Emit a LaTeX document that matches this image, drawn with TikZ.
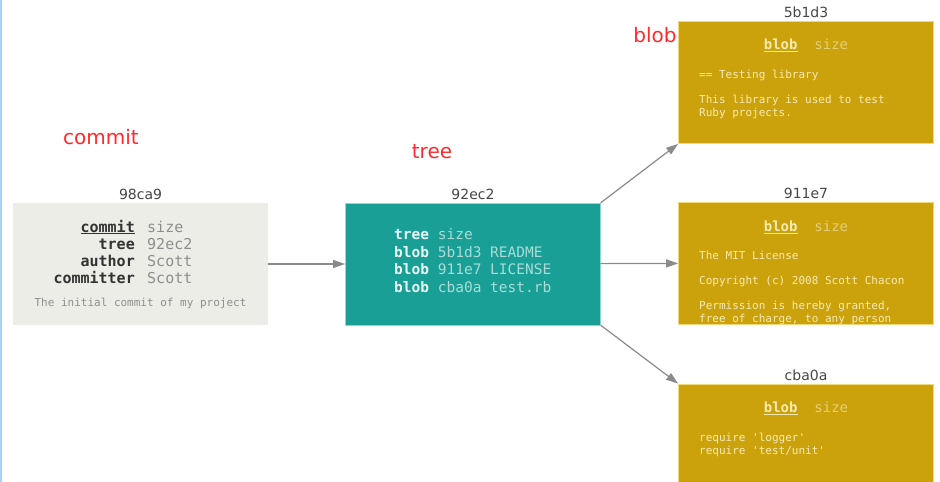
\documentclass[tikz,border=0pt]{standalone}
\usepackage{fontspec}
\setmainfont{DejaVu Sans}
\setmonofont{DejaVu Sans Mono}
\usepackage{tikz}
\usetikzlibrary{arrows.meta,positioning}
\definecolor{gitCommit}{HTML}{EDEDE7}
\definecolor{gitTree}{HTML}{1A9F97}
\definecolor{gitTreeLine}{HTML}{8ED8D2}
\definecolor{gitBlob}{HTML}{CBA20C}
\definecolor{gitBlobLine}{HTML}{EFD97A}
\definecolor{gitInk}{HTML}{333333}
\definecolor{gitMuted}{HTML}{8E8E8E}
\definecolor{gitArrow}{HTML}{8A8A8A}
\definecolor{gitNote}{HTML}{FF2B2B}
\definecolor{gitEdge}{HTML}{A9D3F2}
\definecolor{gitTreeText}{HTML}{EAF6F3}
\definecolor{gitTreeDim}{HTML}{A8DCD6}
\definecolor{gitBlobText}{HTML}{F6EAB4}
\definecolor{gitBlobDim}{HTML}{E4CF78}
\tikzset{
  git diagram/.style={x=1pt, y=-1pt, line cap=round, line join=round},
  git box/.style={minimum width=255pt, minimum height=122pt, inner sep=0pt},
  git commit box/.style={git box, fill=gitCommit},
  git tree box/.style={git box, fill=gitTree, draw=gitTreeLine, line width=0.8pt},
  git blob box/.style={git box, fill=gitBlob, draw=gitBlobLine, line width=0.8pt},
  git hash/.style={font=\fontsize{14}{16}\selectfont, text=gitInk!90, inner sep=1pt},
  git note/.style={font=\fontsize{20}{24}\selectfont, text=gitNote},
  git field/.style={font=\ttfamily\fontsize{15}{17}\selectfont, inner sep=0pt},
  git entry/.style={font=\ttfamily\fontsize{14.5}{17}\selectfont, inner sep=0pt,
    anchor=base west, text=gitTreeDim},
  git head/.style={font=\ttfamily\fontsize{14}{17}\selectfont, inner sep=0pt,
    text=gitBlobText},
  git body/.style={font=\ttfamily\fontsize{11}{13}\selectfont, text=gitBlobText,
    align=left, inner sep=0pt, anchor=north west},
  git arrow/.style={-{Triangle[length=12pt,width=8pt]}, draw=gitArrow, line width=1.2pt}
}

\begin{document}
\begin{tikzpicture}[git diagram]
\clip (0,0) rectangle (940,482);
\fill[white] (0,0) rectangle (940,482);
\draw[gitEdge, line width=1.5pt] (1,0) -- (1,482);

% objects
\node[git commit box] (commit) at (140.5,264) {};
\node[git tree box] (tree) at (473,264) {};
\node[git blob box] (blob1) at (806,82.5) {};
\node[git blob box] (blob2) at (806,263) {};
\node[git blob box] (blob3) at (806,445) {};

\node[git hash, above=2pt of commit] (hashcommit) {98ca9};
\node[git hash, above=2pt of tree] (hashtree) {92ec2};
\node[git hash, above=2pt of blob1] (hashblob1) {5b1d3};
\node[git hash, above=2pt of blob2] (hashblob2) {911e7};
\node[git hash, above=2pt of blob3] (hashblob3) {cba0a};

% commit
\node[git field, anchor=base east, text=gitInk] (kcommit) at (135,232) {\underline{\textbf{commit}}};
\node[git field, anchor=base west, text=gitMuted] (vcommit) at (147,232) {size};
\foreach \k/\v/\y in {tree/92ec2/249, author/Scott/266, committer/Scott/283} {
  \node[git field, anchor=base east, text=gitInk] (k\k) at (135,\y) {\textbf{\k}};
  \node[git field, anchor=base west, text=gitMuted] (v\k) at (147,\y) {\v};
}
\node[git body, anchor=center, text=gitMuted] (message) at (140.5,303) {The initial commit of my project};

% tree
\node[git entry] (etree) at (394,239) {\textcolor{gitTreeText}{\textbf{tree}} size};
\foreach \h/\n/\y in {5b1d3/README/257, 911e7/LICENSE/274, cba0a/test.rb/292}
  \node[git entry] (e\h) at (394,\y) {\textcolor{gitTreeText}{\textbf{blob}} \h\ \n};

% blobs
\foreach \b/\y in {blob1/45, blob2/227, blob3/408}
  \node[git head] (head\b) at (806,\y) {\underline{\textbf{blob}}\ \ \textcolor{gitBlobDim}{size}};
\node[git body] (body1) at (699,70) {== Testing library\\[12pt]This library is used to test\\Ruby projects.};
\begin{scope}
  \clip (blob2.north west) rectangle (blob2.south east);
  \node[git body] (body2) at (699,251) {The MIT License\\[12pt]Copyright (c) 2008 Scott Chacon\\[12pt]Permission is hereby granted,\\free of charge, to any person};
\end{scope}
\node[git body] (body3) at (699,433) {require 'logger'\\require 'test/unit'};

% links
\draw[git arrow] (commit) -- (tree);
\draw[git arrow] (tree.north east) -- (blob1.south west);
\draw[git arrow] (tree) -- (blob2);
\draw[git arrow] (tree.south east) -- (blob3.north west);

% notes
\node[git note] (notecommit) at (101,137) {commit};
\node[git note] (notetree) at (432,152) {tree};
\node[git note] (noteblob) at (655,35) {blob};
\end{tikzpicture}
\end{document}
